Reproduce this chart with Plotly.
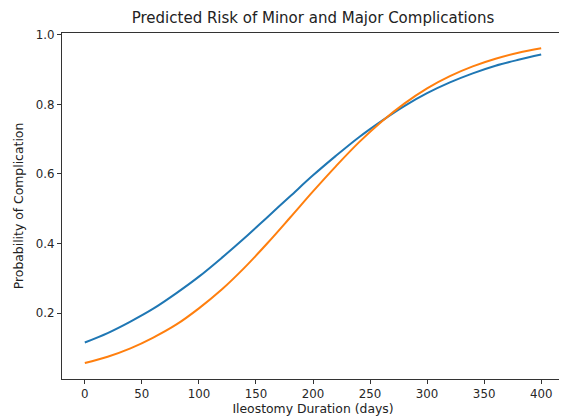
import plotly.graph_objects as go

days = [0, 20, 40, 60, 80, 100, 120, 140, 160, 180, 200, 220, 240, 260, 280, 300, 320, 340, 360, 380, 400]
minor_risk = [0.116, 0.143, 0.176, 0.213, 0.257, 0.305, 0.359, 0.416, 0.476, 0.536, 0.596, 0.652,
              0.705, 0.752, 0.795, 0.832, 0.863, 0.889, 0.911, 0.928, 0.943]
major_risk = [0.057, 0.075, 0.099, 0.130, 0.167, 0.214, 0.268, 0.331, 0.401, 0.475, 0.550, 0.622,
              0.690, 0.750, 0.802, 0.846, 0.881, 0.909, 0.931, 0.948, 0.961]
x_ticks = [0, 50, 100, 150, 200, 250, 300, 350, 400]
y_ticks = [0.2, 0.4, 0.6, 0.8, 1.0]
y_tick_labels = ["0.2", "0.4", "0.6", "0.8", "1.0"]

FONT = "DejaVu Sans, sans-serif"
W, H = 559, 410  # page body has an 8px margin

fig = go.Figure()
fig.add_trace(go.Scatter(x=days, y=minor_risk, mode="lines", name="Minor",
                         line=dict(color="#1f77b4", width=2, shape="spline")))
fig.add_trace(go.Scatter(x=days, y=major_risk, mode="lines", name="Major",
                         line=dict(color="#ff7f0e", width=2, shape="spline")))

axis_common = dict(showgrid=False, zeroline=False, showline=True, mirror=True,
                   linecolor="#333333", linewidth=1, ticks="outside", ticklen=4,
                   tickwidth=1, tickcolor="#333333",
                   tickfont=dict(family=FONT, size=11.8, color="#262626"))

fig.update_layout(
    width=W, height=H,
    margin=dict(l=54, r=3, t=25, b=39, pad=0),
    paper_bgcolor="white", plot_bgcolor="white",
    showlegend=False,
    title=dict(text="Predicted Risk of Minor and Major Complications",
               font=dict(family=FONT, size=15, color="#222222"),
               x=305 / W, xanchor="center", xref="container",
               y=1 - 10 / H, yanchor="middle", yref="container"),
    xaxis=dict(range=[-20, 420], tickvals=x_ticks,
               title=dict(text="Ileostomy Duration (days)", standoff=3,
                          font=dict(family=FONT, size=12.4, color="#222222")),
               **axis_common),
    yaxis=dict(range=[0.011, 1.005], tickvals=y_ticks, ticktext=y_tick_labels,
               title=dict(text="Probability of Complication", standoff=9,
                          font=dict(family=FONT, size=12.4, color="#222222")),
               **axis_common),
)

fig.write_html("out.html")
